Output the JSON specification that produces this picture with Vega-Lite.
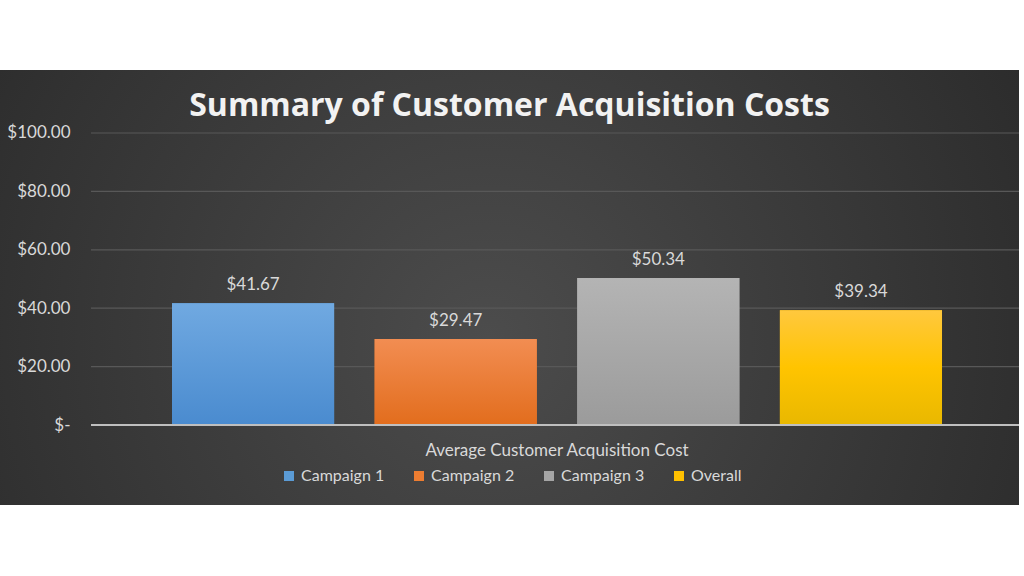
{
  "$schema": "https://vega.github.io/schema/vega-lite/v6.json",
  "width": 1019,
  "height": 435,
  "autosize": {"type": "none"},
  "padding": {"top": 70, "bottom": 71, "left": 0, "right": 5},
  "background": "#ffffff",
  "title": {
    "text": "Summary of Customer Acquisition Costs",
    "font": "Open Sans",
    "fontSize": 32,
    "fontWeight": "bold",
    "color": "#f2f2f2",
    "anchor": "middle",
    "frame": "group",
    "offset": -53
  },
  "config": {
    "view": {
      "stroke": null,
      "fill": {
        "gradient": "radial",
        "x1": 0.48, "y1": 0.55, "r1": 0,
        "x2": 0.48, "y2": 0.55, "r2": 0.75,
        "stops": [
          {"offset": 0, "color": "#4c4c4c"},
          {"offset": 1, "color": "#232323"}
        ]
      }
    },
    "font": "Lato"
  },
  "datasets": {
    "costs": [
      {"category": "Average Customer Acquisition Cost", "series": "Campaign 1", "value": 41.67},
      {"category": "Average Customer Acquisition Cost", "series": "Campaign 2", "value": 29.47},
      {"category": "Average Customer Acquisition Cost", "series": "Campaign 3", "value": 50.34},
      {"category": "Average Customer Acquisition Cost", "series": "Overall", "value": 39.34}
    ],
    "grid": [
      {"category": "Average Customer Acquisition Cost", "value": 20},
      {"category": "Average Customer Acquisition Cost", "value": 40},
      {"category": "Average Customer Acquisition Cost", "value": 60},
      {"category": "Average Customer Acquisition Cost", "value": 80},
      {"category": "Average Customer Acquisition Cost", "value": 100}
    ],
    "base": [
      {"category": "Average Customer Acquisition Cost", "value": 0}
    ]
  },
  "layer": [
    {
      "data": {"name": "grid"},
      "mark": {"type": "rule", "color": "#585858", "strokeWidth": 1.2},
      "encoding": {
        "x": {"field": "category", "type": "nominal", "bandPosition": -0.1052},
        "x2": {"field": "category", "bandPosition": 1.1},
        "y": {"field": "value", "type": "quantitative"}
      }
    },
    {
      "data": {"name": "costs"},
      "mark": {"type": "bar"},
      "encoding": {
        "x": {
          "field": "category",
          "type": "nominal",
          "scale": {"paddingInner": 0, "paddingOuter": 0.16169, "align": 0.6908, "round": false},
          "axis": {
            "title": null,
            "orient": "bottom",
            "offset": -80,
            "domain": false,
            "ticks": false,
            "labelPadding": 25,
            "labelFont": "Lato",
            "labelFontSize": 17,
            "labelColor": "#d9d9d9",
            "labelAngle": 0,
            "labelAlign": "center",
            "labelLimit": 500
          }
        },
        "xOffset": {
          "field": "series",
          "type": "nominal",
          "scale": {"paddingInner": 0.2, "paddingOuter": 0}
        },
        "y": {
          "field": "value",
          "type": "quantitative",
          "scale": {"domain": [-27.397, 121.575], "nice": false, "zero": false},
          "axis": {
            "title": null,
            "values": [0, 20, 40, 60, 80, 100],
            "grid": false,
            "domain": false,
            "ticks": false,
            "offset": -91,
            "labelPadding": 21,
            "labelFont": "Lato",
            "labelFontSize": 17,
            "labelColor": "#d9d9d9",
            "labelExpr": "datum.value == 0 ? '$-\u00a0\u00a0' : '$' + format(datum.value, '.2f')"
          }
        },
        "color": {
          "field": "series",
          "type": "nominal",
          "scale": {
            "domain": ["Campaign 1", "Campaign 2", "Campaign 3", "Overall"],
            "range": ["#5b9bd5", "#ed7d31", "#a5a5a5", "#ffc000"]
          },
          "legend": {
            "title": null,
            "orient": "none",
            "direction": "horizontal",
            "legendX": 281,
            "legendY": 398,
            "symbolType": "square",
            "symbolSize": 100,
            "symbolStrokeWidth": 0,
            "symbolOpacity": 1,
            "labelFont": "Lato",
            "labelFontSize": 16,
            "labelColor": "#d9d9d9",
            "labelOffset": 4,
            "columnPadding": 26
          }
        }
      }
    },
    {
      "data": {"name": "costs"},
      "mark": {"type": "bar"},
      "encoding": {
        "x": {"field": "category", "type": "nominal"},
        "xOffset": {"field": "series", "type": "nominal"},
        "y": {"field": "value", "type": "quantitative"},
        "fill": {
          "condition": [
            {"test": "datum.series === 'Campaign 1'", "value": {"gradient": "linear", "x1": 0, "y1": 0, "x2": 0, "y2": 1, "stops": [{"offset": 0, "color": "#70a9e1"}, {"offset": 1, "color": "#4a8bcf"}]}},
            {"test": "datum.series === 'Campaign 2'", "value": {"gradient": "linear", "x1": 0, "y1": 0, "x2": 0, "y2": 1, "stops": [{"offset": 0, "color": "#f28d52"}, {"offset": 1, "color": "#e26d1d"}]}},
            {"test": "datum.series === 'Campaign 3'", "value": {"gradient": "linear", "x1": 0, "y1": 0, "x2": 0, "y2": 1, "stops": [{"offset": 0, "color": "#b4b4b4"}, {"offset": 1, "color": "#9b9b9b"}]}}
          ],
          "value": {"gradient": "linear", "x1": 0, "y1": 0, "x2": 0, "y2": 1, "stops": [{"offset": 0, "color": "#ffc83e"}, {"offset": 0.5, "color": "#ffc400"}, {"offset": 1, "color": "#e9b800"}]}
        }
      }
    },
    {
      "data": {"name": "costs"},
      "mark": {"type": "text", "baseline": "alphabetic", "dy": -13, "font": "Lato", "fontSize": 17, "color": "#d9d9d9"},
      "encoding": {
        "x": {"field": "category", "type": "nominal"},
        "xOffset": {"field": "series", "type": "nominal"},
        "y": {"field": "value", "type": "quantitative"},
        "text": {"field": "value", "type": "quantitative", "format": "$.2f"}
      }
    },
    {
      "data": {"name": "base"},
      "mark": {"type": "rule", "color": "#bfbfbf", "strokeWidth": 2},
      "encoding": {
        "x": {"field": "category", "type": "nominal", "bandPosition": -0.1052},
        "x2": {"field": "category", "bandPosition": 1.1},
        "y": {"field": "value", "type": "quantitative"}
      }
    }
  ]
}
